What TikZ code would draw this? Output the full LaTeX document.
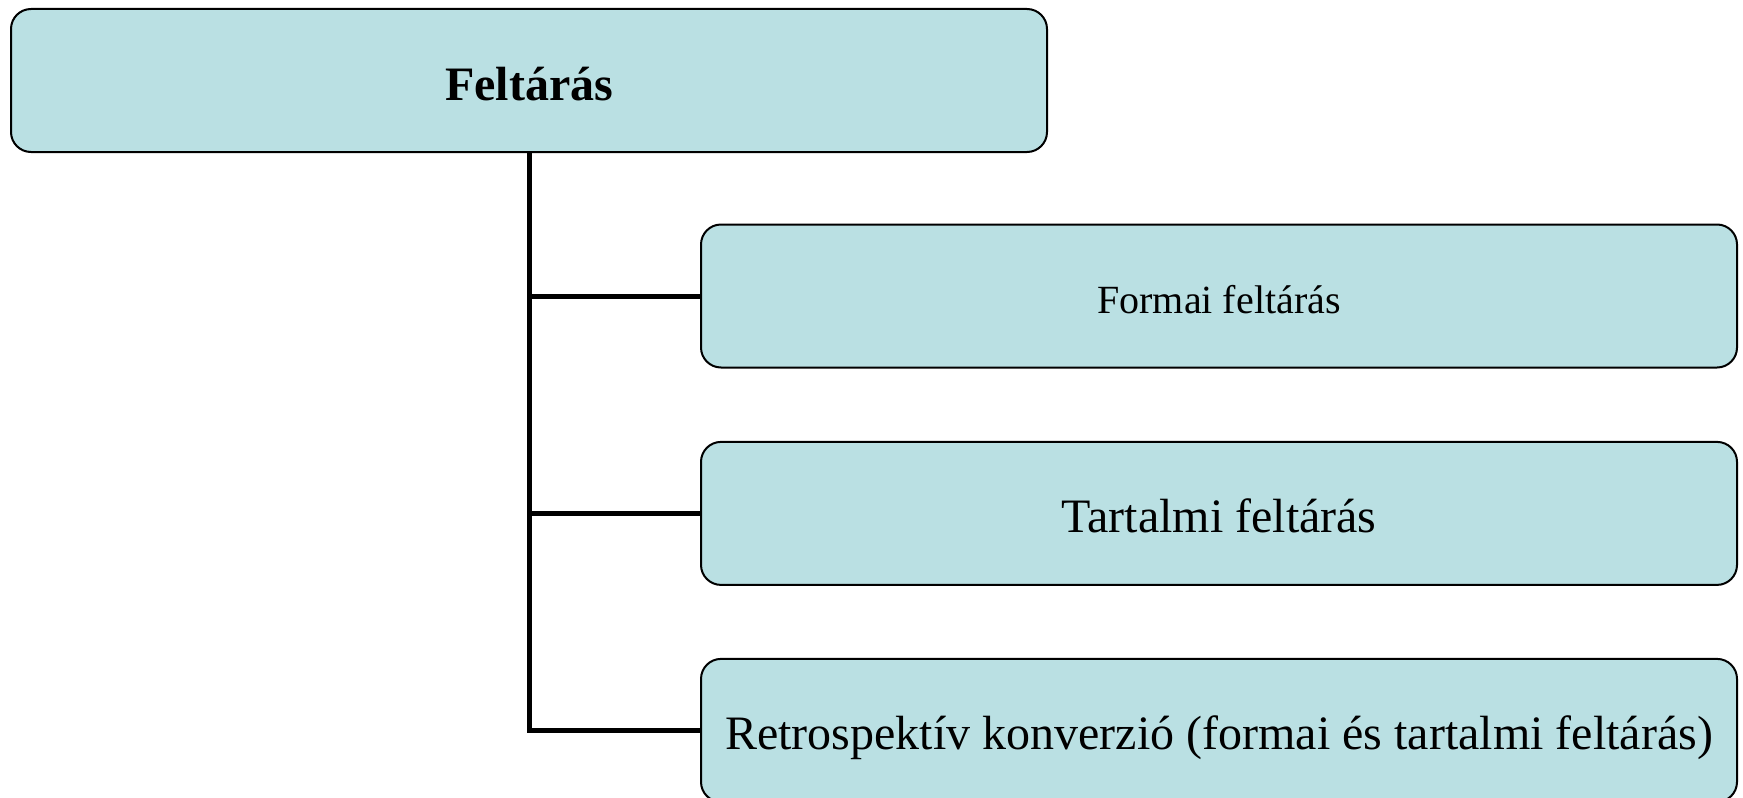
\documentclass[tikz,border=0pt]{standalone}
\usepackage{fontspec}
\setmainfont{Liberation Serif}
\usetikzlibrary{positioning}
\definecolor{boxblue}{RGB}{186,224,227}

\begin{document}
\begin{tikzpicture}[x=0.5pt,y=-0.5pt,
                    box/.style={draw=black,line width=1pt,fill=boxblue,rounded corners=10pt,
                                minimum width=518pt,minimum height=71.5pt,inner sep=0pt,
                                font=\fontsize{24}{28}\selectfont,text height=19.5pt,text depth=0pt},
                    smallbox/.style={box,font=\fontsize{20}{24}\selectfont,text height=17pt},
                    link/.style={line width=2.5pt}]
\useasboundingbox (0,0) rectangle (1743,797);
\node[box,font=\fontsize{24}{28}\selectfont\bfseries] (felt) at (529,80.5) {Feltárás};
\node[smallbox] (formai) at (1219,296) {Formai feltárás};
\node[box,below=36.2pt of formai] (tartalmi) {Tartalmi feltárás};
\node[box,below=36pt of tartalmi] (retro) {Retrospektív konverzió (formai és tartalmi feltárás)};
\draw[link] (felt.south) |- (retro.west);
\draw[link] (felt.south |- formai.west) -- (formai.west);
\draw[link] (felt.south |- tartalmi.west) -- (tartalmi.west);
\end{tikzpicture}
\end{document}
